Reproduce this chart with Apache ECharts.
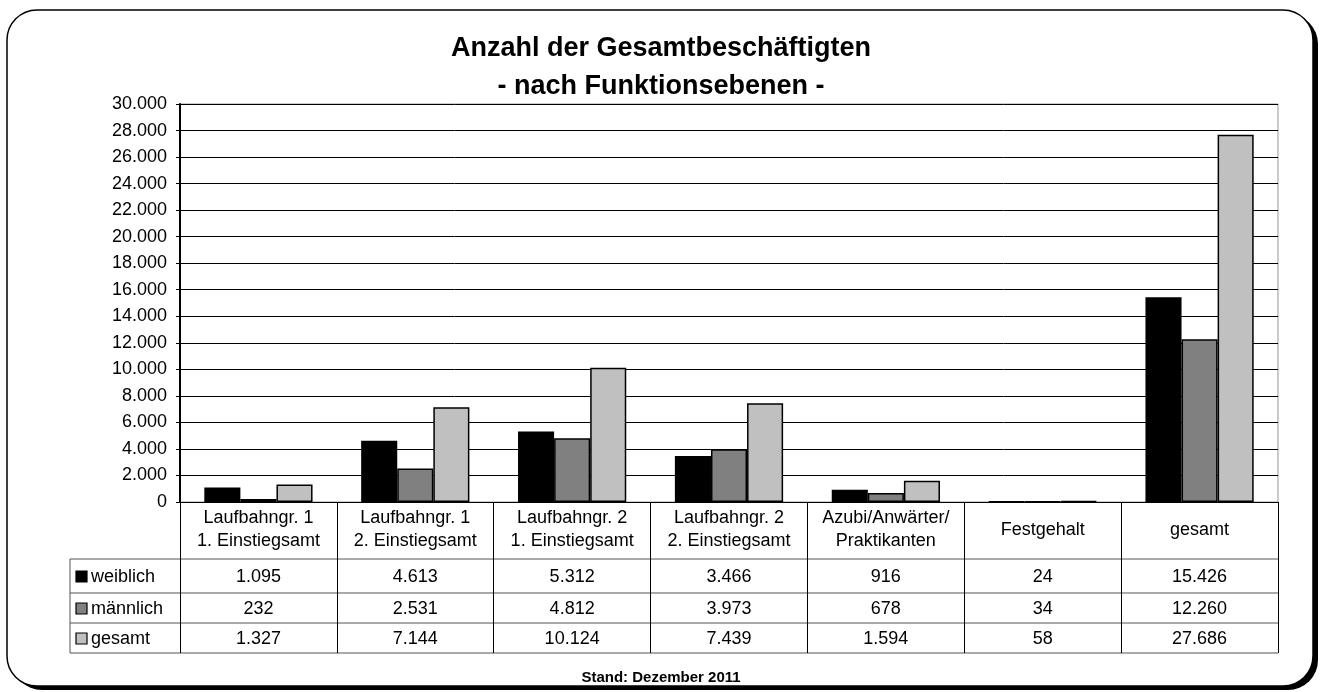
<!DOCTYPE html>
<html>
<head>
<meta charset="utf-8">
<script src="https://cdn.jsdelivr.net/npm/echarts@6/dist/echarts.min.js"></script>
<style>
    html, body { margin: 0; padding: 0; background: #fff; }
    #chart { width: 1322px; height: 692px; }
</style>
</head>
<body>
<div id="chart"></div>
<script>
// Daten
var categories = [
    'Laufbahngr. 1\n1. Einstiegsamt',
    'Laufbahngr. 1\n2. Einstiegsamt',
    'Laufbahngr. 2\n1. Einstiegsamt',
    'Laufbahngr. 2\n2. Einstiegsamt',
    'Azubi/Anwärter/\nPraktikanten',
    'Festgehalt',
    'gesamt'
];
var seriesNames = ['weiblich', 'männlich', 'gesamt'];
var weiblich = [1095, 4613, 5312, 3466, 916, 24, 15426];
var maennlich = [232, 2531, 4812, 3973, 678, 34, 12260];
var gesamt = [1327, 7144, 10124, 7439, 1594, 58, 27686];
var colors = ['#000000', '#808080', '#c0c0c0'];

var font = '"Liberation Sans", Arial, sans-serif';

// Tabellenmaße
var headerH = 57;
var rowHeights = [34, 30, 30];
var tableH = headerH + rowHeights.reduce(function (a, b) { return a + b; }, 0);

function fmt(v) {
    return String(v).replace(/\B(?=(\d{3})+(?!\d))/g, '.');
}

var chart = echarts.init(document.getElementById('chart'));

chart.setOption({
    animation: false,
    textStyle: { fontFamily: font },
    title: [{
        text: 'Anzahl der Gesamtbeschäftigten\n- nach Funktionsebenen -',
        left: 'center',
        top: 25,
        textStyle: { fontSize: 27, fontWeight: 'bold', lineHeight: 38, color: '#000', fontFamily: font }
    }, {
        text: 'Stand: Dezember 2011',
        left: 'center',
        top: 665,
        z: 20,
        textStyle: { fontSize: 15, fontWeight: 'bold', color: '#000', fontFamily: font }
    }],
    grid: {
        left: 180,
        right: 44,
        top: 104,
        bottom: 190,
        show: true,
        borderColor: '#999',
        borderWidth: 1
    },
    xAxis: {
        type: 'category',
        data: categories,
        axisLine: { lineStyle: { color: '#000', width: 1 } },
        axisTick: { show: true, length: tableH, lineStyle: { color: '#000', width: 1 } },
        axisLabel: {
            margin: 28,
            verticalAlign: 'middle',
            fontSize: 18,
            lineHeight: 23,
            color: '#000',
            interval: 0
        }
    },
    yAxis: {
        type: 'value',
        min: 0,
        max: 30000,
        interval: 2000,
        axisLine: { show: true, lineStyle: { color: '#000', width: 2 } },
        axisTick: { show: true, length: 4, lineStyle: { color: '#000' } },
        axisLabel: {
            fontSize: 18,
            color: '#000',
            margin: 13,
            formatter: function (v) { return fmt(v); }
        },
        splitLine: { lineStyle: { color: '#000', width: 1 } }
    },
    series: [weiblich, maennlich, gesamt].map(function (d, i) {
        return {
            name: seriesNames[i],
            type: 'bar',
            data: d,
            barGap: '0%',
            barCategoryGap: '31%',
            itemStyle: { color: colors[i], borderColor: '#000', borderWidth: 1.5 }
        };
    })
});

// Datentabelle unter dem Diagramm
function buildTable() {
    var c0 = chart.convertToPixel({ xAxisIndex: 0 }, 0);
    var c1 = chart.convertToPixel({ xAxisIndex: 0 }, 1);
    var bw = c1 - c0;
    var right = chart.convertToPixel({ xAxisIndex: 0 }, categories.length - 1) + bw / 2;
    var y0 = chart.convertToPixel({ yAxisIndex: 0 }, 0);
    var legendLeft = 70;
    var rows = [weiblich, maennlich, gesamt];
    var els = [];

    // Rahmen mit Schatten
    els.push({
        type: 'rect', z: -11, silent: true,
        shape: { x: 12, y: 14, width: 1306, height: 676, r: 30 },
        style: { fill: '#000' }
    });
    els.push({
        type: 'rect', z: -10, silent: true,
        shape: { x: 7, y: 10, width: 1306, height: 676, r: 30 },
        style: { fill: '#fff', stroke: '#000', lineWidth: 1.5 }
    });

    var y = y0 + headerH;
    var lines = [y];
    rowHeights.forEach(function (h) { y += h; lines.push(y); });
    lines.forEach(function (ly) {
        els.push({
            type: 'line', silent: true,
            shape: { x1: legendLeft, y1: ly, x2: right, y2: ly },
            style: { stroke: '#555', lineWidth: 1 }
        });
    });
    els.push({
        type: 'line', silent: true,
        shape: { x1: legendLeft, y1: lines[0], x2: legendLeft, y2: lines[lines.length - 1] },
        style: { stroke: '#555', lineWidth: 1 }
    });

    rows.forEach(function (data, ri) {
        var cy = (lines[ri] + lines[ri + 1]) / 2 + 1;
        els.push({
            type: 'rect', silent: true,
            shape: { x: 76, y: cy - 6, width: 11, height: 11 },
            style: { fill: colors[ri], stroke: '#000', lineWidth: 1.2 }
        });
        els.push({
            type: 'text', silent: true,
            x: 91, y: cy,
            style: {
                text: seriesNames[ri],
                font: '18px ' + font,
                fill: '#000',
                align: 'left',
                verticalAlign: 'middle'
            }
        });
        data.forEach(function (v, ci) {
            els.push({
                type: 'text', silent: true,
                x: chart.convertToPixel({ xAxisIndex: 0 }, ci),
                y: cy,
                style: {
                    text: fmt(v),
                    font: '18px ' + font,
                    fill: '#000',
                    align: 'center',
                    verticalAlign: 'middle'
                }
            });
        });
    });

    chart.setOption({ graphic: els });
}

buildTable();
</script>
</body>
</html>
